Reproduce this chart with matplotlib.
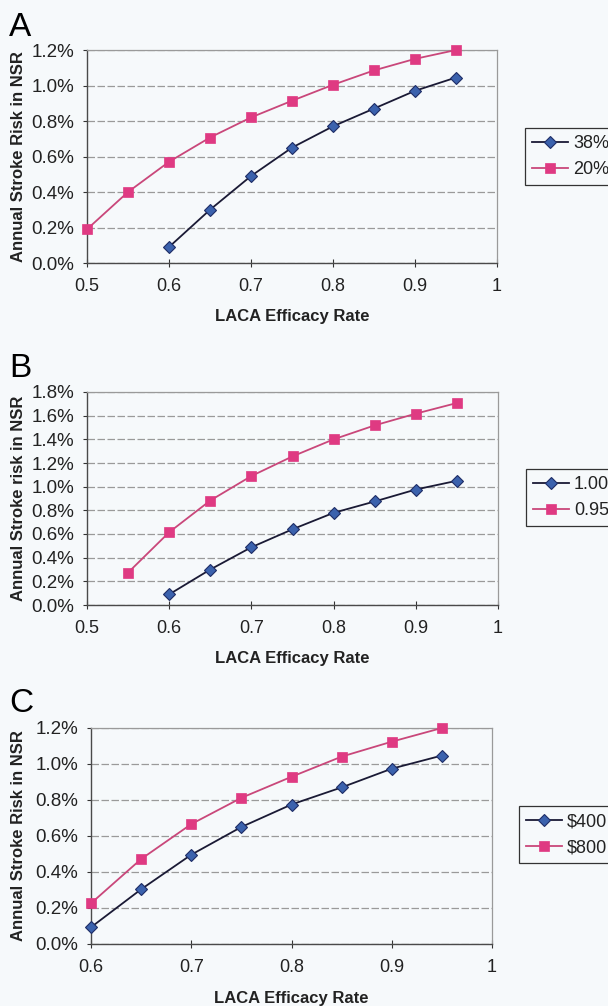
import matplotlib
matplotlib.use("Agg")
import matplotlib.pyplot as plt
import numpy as np

plt.rcParams['font.family'] = ['Liberation Sans', 'DejaVu Sans']

# ---------------- data ----------------
# Panel A
a_x_blue = [0.60, 0.65, 0.70, 0.75, 0.80, 0.85, 0.90, 0.95]
a_y_blue = [0.09, 0.30, 0.49, 0.65, 0.77, 0.87, 0.97, 1.045]
a_x_pink = [0.50, 0.55, 0.60, 0.65, 0.70, 0.75, 0.80, 0.85, 0.90, 0.95]
a_y_pink = [0.19, 0.40, 0.57, 0.707, 0.82, 0.914, 1.004, 1.085, 1.15, 1.20]
a_labels = ["38%", "20%"]

# Panel B
b_x_blue = [0.60, 0.65, 0.70, 0.75, 0.80, 0.85, 0.90, 0.95]
b_y_blue = [0.09, 0.30, 0.488, 0.64, 0.779, 0.875, 0.976, 1.05]
b_x_pink = [0.55, 0.60, 0.65, 0.70, 0.75, 0.80, 0.85, 0.90, 0.95]
b_y_pink = [0.274, 0.615, 0.883, 1.09, 1.256, 1.40, 1.518, 1.617, 1.707]
b_labels = ["1.00", "0.95"]

# Panel C
c_x_blue = [0.60, 0.65, 0.70, 0.75, 0.80, 0.85, 0.90, 0.95]
c_y_blue = [0.093, 0.304, 0.496, 0.65, 0.775, 0.87, 0.974, 1.047]
c_x_pink = [0.60, 0.65, 0.70, 0.75, 0.80, 0.85, 0.90, 0.95]
c_y_pink = [0.226, 0.472, 0.666, 0.812, 0.929, 1.041, 1.124, 1.20]
c_labels = ["$400", "$800"]

ylabels = ["Annual Stroke Risk in NSR", "Annual Stroke risk in NSR", "Annual Stroke Risk in NSR"]
xlabel = "LACA Efficacy Rate"
letters = ["A", "B", "C"]

# ---------------- layout ----------------
W, H = 608, 1006
BG = "#f6f9fb"
fig = plt.figure(figsize=(W / 100, H / 100), dpi=100, facecolor=BG)

def fx(px):
    return px / W

def fy(py):
    return 1 - py / H

panels = [
    dict(l=87, r=497, t=50, b=263, xlim=(0.5, 1.0), xt=[0.5, 0.6, 0.7, 0.8, 0.9, 1.0],
         ymax=1.2, xb=a_x_blue, yb=a_y_blue, xp=a_x_pink, yp=a_y_pink, labels=a_labels,
         leg=(525, 128), letter_y=36),
    dict(l=87, r=498, t=392, b=605, xlim=(0.5, 1.0), xt=[0.5, 0.6, 0.7, 0.8, 0.9, 1.0],
         ymax=1.8, xb=b_x_blue, yb=b_y_blue, xp=b_x_pink, yp=b_y_pink, labels=b_labels,
         leg=(526, 469), letter_y=377),
    dict(l=91, r=492, t=728, b=944, xlim=(0.6, 1.0), xt=[0.6, 0.7, 0.8, 0.9, 1.0],
         ymax=1.2, xb=c_x_blue, yb=c_y_blue, xp=c_x_pink, yp=c_y_pink, labels=c_labels,
         leg=(519, 806), letter_y=712),
]

BLUE_FACE = "#3b62ad"
BLUE_EDGE = "#1e2d66"
BLUE_LINE = "#1a1a35"
PINK = "#df3a82"
PINK_LINE = "#c9477a"

for i, p in enumerate(panels):
    ax = fig.add_axes([fx(p["l"]), fy(p["b"]), fx(p["r"] - p["l"]), (p["b"] - p["t"]) / H])
    ax.set_facecolor(BG)
    ax.plot(p["xb"], p["yb"], color=BLUE_LINE, lw=1.3, marker="D", ms=6.5,
            mfc=BLUE_FACE, mec=BLUE_EDGE, mew=0.8, label=p["labels"][0], zorder=3,
            clip_on=False)
    ax.plot(p["xp"], p["yp"], color=PINK_LINE, lw=1.3, marker="s", ms=6.5,
            mfc=PINK, mec=PINK, mew=0.5, label=p["labels"][1], zorder=3,
            clip_on=False)
    ax.set_xlim(*p["xlim"])
    ax.set_ylim(0, p["ymax"])
    yt = np.arange(0, p["ymax"] + 1e-9, 0.2)
    ax.set_yticks(yt)
    ax.set_yticklabels([f"{v:.1f}%" for v in yt])
    ax.set_xticks(p["xt"])
    ax.set_xticklabels(["1" if abs(v - 1) < 1e-9 else f"{v:.1f}" for v in p["xt"]])
    ax.yaxis.grid(True, color="#9a9a9a", lw=0.9, linestyle=(0, (6, 2)))
    ax.set_axisbelow(True)
    for side in ["top", "right"]:
        ax.spines[side].set_color("#9a9a9a")
        ax.spines[side].set_linewidth(0.9)
    for side in ["left", "bottom"]:
        ax.spines[side].set_color("#4a4a4a")
        ax.spines[side].set_linewidth(1.0)
    ax.tick_params(axis="y", direction="out", length=3, width=0.8, pad=6,
                   labelsize=13.5, colors="#333333", labelcolor="#222222")
    ax.tick_params(axis="x", direction="inout", length=6, width=0.8, pad=8,
                   labelsize=13, colors="#333333", labelcolor="#222222")

    # axis titles
    fig.text(fx(19), fy((p["t"] + p["b"]) / 2), ylabels[i], rotation=90,
             ha="center", va="center", fontsize=12, fontweight="bold", color="#222222")
    fig.text(fx((p["l"] + p["r"]) / 2), fy(p["b"] + 54), xlabel,
             ha="center", va="center", fontsize=12, fontweight="bold", color="#222222")
    # panel letters
    fig.text(fx(9), fy(p["letter_y"]), letters[i], ha="left", va="baseline",
             fontsize=24, color="black")

    leg = fig.legend(handles=ax.get_lines(), labels=p["labels"], loc="upper left",
                     bbox_to_anchor=(fx(p["leg"][0]), fy(p["leg"][1])),
                     bbox_transform=fig.transFigure, fontsize=13, frameon=True,
                     fancybox=False, edgecolor="#333333", facecolor=BG, framealpha=1,
                     handlelength=2.0, handletextpad=0.25, labelspacing=0.5,
                     borderpad=0.4, borderaxespad=0)
    leg.get_frame().set_linewidth(0.9)
    for t in leg.get_texts():
        t.set_color("#222222")

fig.savefig("out.png", dpi=100, facecolor=BG)
